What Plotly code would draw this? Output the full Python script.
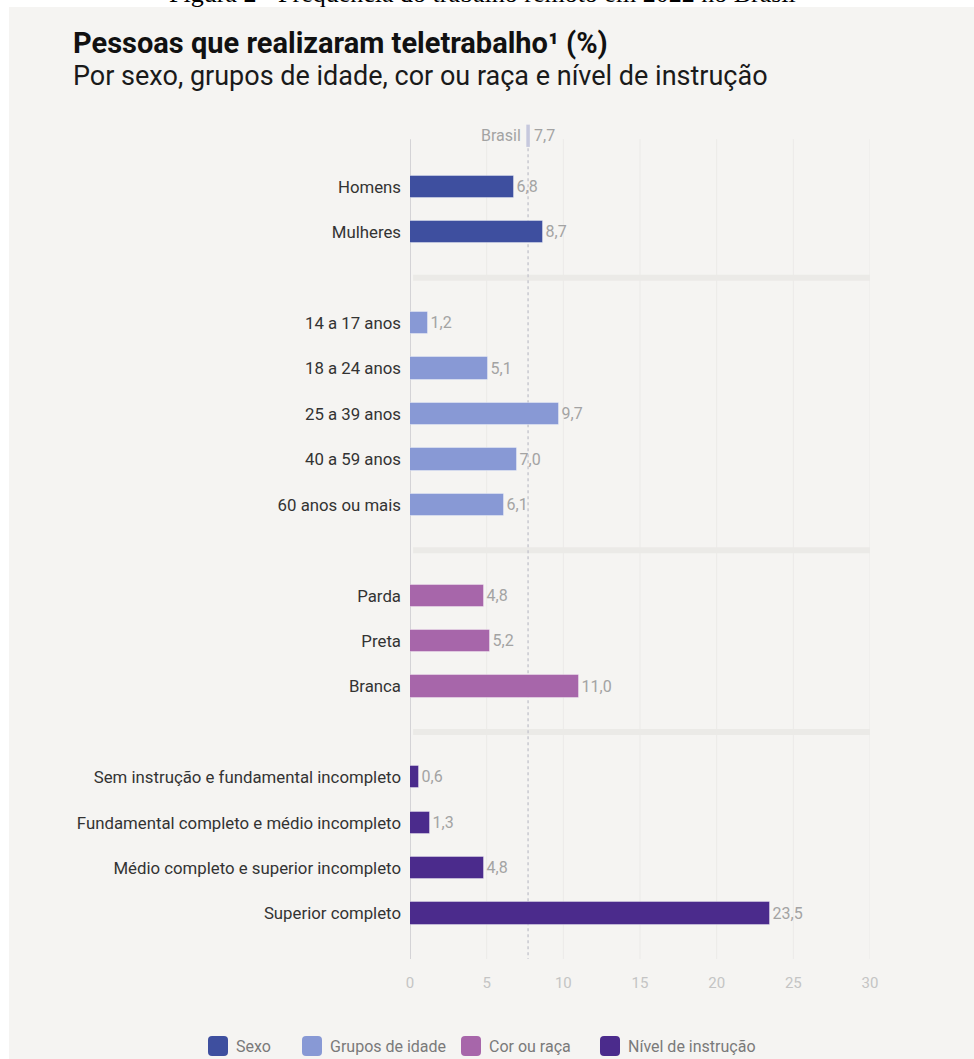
import plotly.graph_objects as go

# ---------------- data ----------------
sexo_labels = ["Homens", "Mulheres"]
sexo_values = [6.8, 8.7]

idade_labels = ["14 a 17 anos", "18 a 24 anos", "25 a 39 anos", "40 a 59 anos", "60 anos ou mais"]
idade_values = [1.2, 5.1, 9.7, 7.0, 6.1]

cor_labels = ["Parda", "Preta", "Branca"]
cor_values = [4.8, 5.2, 11.0]

instr_labels = ["Sem instrução e fundamental incompleto",
                "Fundamental completo e médio incompleto",
                "Médio completo e superior incompleto",
                "Superior completo"]
instr_values = [0.6, 1.3, 4.8, 23.5]

brasil_value = 7.7

group_names = ["Sexo", "Grupos de idade", "Cor ou raça", "Nível de instrução"]
group_colors = ["#3e4f9f", "#8899d5", "#a766aa", "#4b2b8c"]

x_ticks = [0, 5, 10, 15, 20, 25, 30]

# ---------------- layout helpers ----------------
W, H = 974, 1059
L, R, T, B = 410, 104, 121, 100
PW, PH = W - L - R, H - T - B


def px_x(p):
    return (p - L) / PW


def px_y(p):
    return (H - B - p) / PH


FONT_N = "Roboto, Liberation Sans, Arial, sans-serif"
FONT_R = "Roboto, Liberation Sans, Arial, sans-serif"
fmt = lambda v: f"{v:.1f}".replace(".", ",")

groups = [
    (sexo_labels, sexo_values),
    (idade_labels, idade_values),
    (cor_labels, cor_values),
    (instr_labels, instr_values),
]

fig = go.Figure()
tickvals, ticktext, seps = [], [], []
pos = 0
for gi, (labs, vals) in enumerate(groups):
    ys = list(range(pos, pos + len(labs)))
    pos += len(labs)
    tickvals += ys
    ticktext += labs
    fig.add_trace(go.Bar(
        y=ys, x=vals, orientation="h", width=0.49, name=group_names[gi],
        marker=dict(color=group_colors[gi], line=dict(color="rgba(255,255,255,0.35)", width=1)),
        text=[fmt(v) for v in vals], textposition="outside",
        textfont=dict(family=FONT_N, size=16, color="#a3a3a3"),
        cliponaxis=False, showlegend=False, hoverinfo="skip",
    ))
    if gi < len(groups) - 1:
        seps.append(pos)
        pos += 1

shapes = []
# background strips (white page outside panel)
shapes.append(dict(type="rect", xref="paper", yref="paper", x0=px_x(0), x1=px_x(W),
                   y0=px_y(0), y1=px_y(7), fillcolor="white", line=dict(width=0), layer="below"))
shapes.append(dict(type="rect", xref="paper", yref="paper", x0=px_x(0), x1=px_x(9),
                   y0=px_y(0), y1=px_y(H), fillcolor="white", line=dict(width=0), layer="below"))
# gridlines
for t in x_ticks[1:]:
    shapes.append(dict(type="line", xref="x", yref="y", x0=t, x1=t, y0=-1.05, y1=17,
                       line=dict(color="#ebeae8", width=1), layer="below"))
# separators
for s in seps:
    shapes.append(dict(type="line", xref="x", yref="y", x0=0.2, x1=30, y0=s, y1=s,
                       line=dict(color="#ebeae7", width=6), layer="below"))
# axis line
shapes.append(dict(type="line", xref="x", yref="y", x0=0, x1=0, y0=-1.05, y1=17,
                   line=dict(color="#c8c8cc", width=1.5), layer="below"))
# Brasil reference line
shapes.append(dict(type="line", xref="x", yref="y", x0=brasil_value, x1=brasil_value,
                   y0=-0.85, y1=17, line=dict(color="#c9c9d0", width=1.5, dash="dot"), layer="below"))
shapes.append(dict(type="line", xref="x", yref="y", x0=brasil_value, x1=brasil_value,
                   y0=-1.37, y1=-0.88, line=dict(color="#c6c8dd", width=3.5)))

annotations = [
    dict(text="Figura 2 - Frequência do trabalho remoto em 2022 no Brasil",
         xref="paper", yref="paper", x=px_x(482), y=px_y(0), xanchor="center", yanchor="bottom",
         yshift=-10, showarrow=False, font=dict(family="Liberation Serif, Times New Roman, serif", size=26, color="#000")),
    dict(text="<b>Pessoas que realizaram teletrabalho¹ (%)</b>",
         xref="paper", yref="paper", x=px_x(71), y=px_y(43), xanchor="left", yanchor="middle",
         showarrow=False, font=dict(family=FONT_N, size=29, color="#111")),
    dict(text="Por sexo, grupos de idade, cor ou raça e nível de instrução",
         xref="paper", yref="paper", x=px_x(71), y=px_y(76), xanchor="left", yanchor="middle",
         showarrow=False, font=dict(family=FONT_N, size=27, color="#1a1a1a")),
    dict(text="Brasil", xref="x", yref="y", x=brasil_value, y=-1.12, xanchor="right", xshift=-5,
         showarrow=False, font=dict(family=FONT_N, size=16, color="#a3a3a3")),
    dict(text=fmt(brasil_value), xref="x", yref="y", x=brasil_value, y=-1.12, xanchor="left", xshift=4,
         showarrow=False, font=dict(family=FONT_N, size=16, color="#a3a3a3")),
]

# ---------------- manual legend (layout positions in px) ----------------
legend_sq_x = [208, 302, 461, 600]
legend_y, sq, rad = 1046, 20, 4
for name, col, x0 in zip(group_names, group_colors, legend_sq_x):
    x1 = x0 + sq
    y0, y1 = legend_y - sq / 2, legend_y + sq / 2
    pts = [
        ("M", x0 + rad, y0), ("L", x1 - rad, y0), ("Q", x1, y0, x1, y0 + rad),
        ("L", x1, y1 - rad), ("Q", x1, y1, x1 - rad, y1), ("L", x0 + rad, y1),
        ("Q", x0, y1, x0, y1 - rad), ("L", x0, y0 + rad), ("Q", x0, y0, x0 + rad, y0),
    ]
    path = ""
    for p in pts:
        cmd, coords = p[0], p[1:]
        xy = []
        for i in range(0, len(coords), 2):
            xy.append(f"{px_x(coords[i]):.5f},{px_y(coords[i + 1]):.5f}")
        path += cmd + " ".join(xy) + " "
    path += "Z"
    shapes.append(dict(type="path", xref="paper", yref="paper", path=path,
                       fillcolor=col, line=dict(width=0)))
    annotations.append(dict(text=name, xref="paper", yref="paper", x=px_x(x1 + 6), y=px_y(legend_y),
                            xanchor="left", yanchor="middle", showarrow=False,
                            font=dict(family=FONT_R, size=16, color="#7a7a7a")))

fig.update_layout(
    width=W, height=H,
    margin=dict(l=L, r=R, t=T, b=B, autoexpand=False),
    paper_bgcolor="#f5f4f2", plot_bgcolor="#f5f4f2",
    barmode="overlay", bargap=0,
    shapes=shapes, annotations=annotations,
    xaxis=dict(range=[0, 30], tickvals=x_ticks, ticktext=[str(t) for t in x_ticks],
               showgrid=False, zeroline=False, showline=False, ticks="",
               ticklabelstandoff=13,
               tickfont=dict(family=FONT_N, size=15, color="#c4c4c4"), fixedrange=True),
    yaxis=dict(range=[17, -1.45], tickvals=tickvals, ticktext=ticktext,
               showgrid=False, zeroline=False, showline=False, ticks="",
               ticklabelstandoff=8,
               tickfont=dict(family=FONT_N, size=16.8, color="#333"), fixedrange=True),
    showlegend=False,
)

fig.write_html("out.html")
